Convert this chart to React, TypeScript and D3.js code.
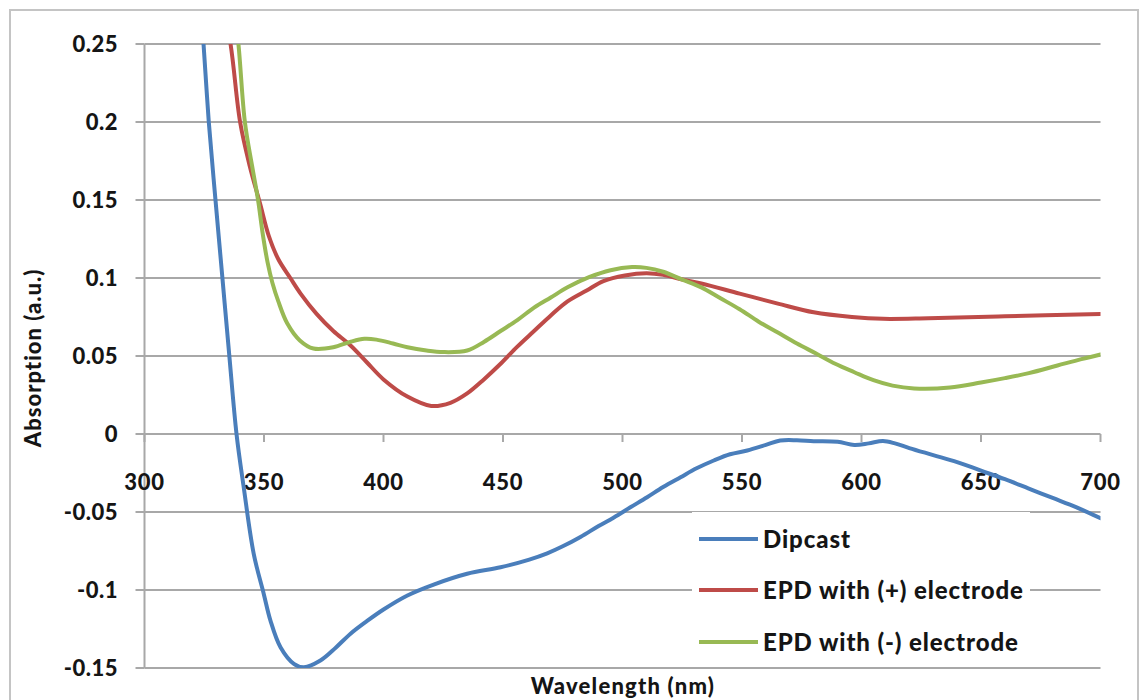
import React from "react";
import * as d3 from "d3";

// Absorption spectra, wavelength (nm) / absorbance (a.u.)
const dipcastNm = [323, 324.7, 326.9, 329.7, 332.6, 335.5, 338.5, 341.5, 345.7, 349.9, 352.7, 356.9, 362.5, 366.7, 373.6, 380, 386.2, 393, 400, 410, 421, 435, 449, 461, 468.5, 475, 482.4, 490, 496.4, 503.3, 510.3, 517, 524.3, 531, 538.2, 545, 552.2, 560, 566, 573, 580, 590, 597, 603, 609, 614, 620, 630, 640, 650, 660, 670, 680, 690, 700];
const dipcastAbs = [0.28, 0.25, 0.2, 0.15, 0.1, 0.05, 0.0, -0.034, -0.0768, -0.1025, -0.1196, -0.1367, -0.1473, -0.1495, -0.1452, -0.137, -0.128, -0.12, -0.1125, -0.1035, -0.0965, -0.0896, -0.0854, -0.0805, -0.0765, -0.072, -0.066, -0.059, -0.0535, -0.047, -0.0405, -0.034, -0.0277, -0.022, -0.017, -0.013, -0.0106, -0.007, -0.0042, -0.004, -0.0046, -0.005, -0.007, -0.006, -0.0045, -0.006, -0.009, -0.0135, -0.018, -0.0235, -0.029, -0.035, -0.041, -0.047, -0.054];

const posNm = [330, 336, 340, 344, 348.3, 352, 356, 361, 365.3, 372, 379, 386, 393, 400, 410, 420, 428, 435, 442, 449, 456, 463, 470, 477, 485, 492, 501, 510, 517, 525, 533, 549, 565, 580, 596, 609, 628, 660, 700];
const posAbs = [0.3, 0.25, 0.2, 0.172, 0.148, 0.127, 0.112, 0.1, 0.09, 0.077, 0.066, 0.057, 0.046, 0.035, 0.024, 0.018, 0.02, 0.026, 0.035, 0.045, 0.056, 0.066, 0.076, 0.085, 0.092, 0.098, 0.1016, 0.103, 0.102, 0.099, 0.0965, 0.09, 0.0836, 0.078, 0.075, 0.0738, 0.0742, 0.0755, 0.077];

const negNm = [337, 339.3, 342, 345, 347.5, 349.5, 351.5, 353.5, 356, 359.7, 365, 370.7, 379, 386, 392, 397, 404, 410, 418, 425, 435, 442, 449, 456, 463, 470, 477, 486, 495, 504, 510, 517, 525, 533, 541, 549, 557, 565, 573, 581, 589, 597, 605, 613, 622, 637, 650, 660, 670, 682, 692, 700];
const negAbs = [0.28, 0.25, 0.2, 0.172, 0.15, 0.128, 0.11, 0.097, 0.085, 0.071, 0.06, 0.0548, 0.0556, 0.059, 0.061, 0.0605, 0.058, 0.0556, 0.0535, 0.0525, 0.0535, 0.059, 0.066, 0.073, 0.081, 0.0875, 0.094, 0.1005, 0.105, 0.107, 0.1065, 0.104, 0.099, 0.094, 0.087, 0.08, 0.072, 0.065, 0.058, 0.0516, 0.045, 0.0396, 0.0345, 0.031, 0.0292, 0.0298, 0.033, 0.0358, 0.039, 0.0439, 0.048, 0.051];

const seriesNames = ["Dipcast", "EPD with (+) electrode", "EPD with (-) electrode"];
const seriesColors = ["#4a7ebb", "#be4b48", "#98b954"];

const xTicks = [300, 350, 400, 450, 500, 550, 600, 650, 700];
const yTicks = [0.25, 0.2, 0.15, 0.1, 0.05, 0, -0.05, -0.1, -0.15];
const yTickLabels = ["0.25", "0.2", "0.15", "0.1", "0.05", "0", "-0.05", "-0.1", "-0.15"];

const xTitle = "Wavelength (nm)";
const yTitle = "Absorption (a.u.)";

const W = 1143;
const H = 700;
const plot = { left: 144.5, right: 1100.5, top: 44, bottom: 668 };
const FONT = "Lato, 'Open Sans', sans-serif";
const GRID = "#a8a8a8";
const INK = "#151515";

export default function App() {
  const x = d3.scaleLinear().domain([300, 700]).range([plot.left, plot.right]);
  const y = d3.scaleLinear().domain([-0.15, 0.25]).range([plot.bottom, plot.top]);

  const series = [
    { nm: dipcastNm, abs: dipcastAbs },
    { nm: posNm, abs: posAbs },
    { nm: negNm, abs: negAbs },
  ];

  const line = d3
    .line<[number, number]>()
    .x((d) => x(d[0]))
    .y((d) => y(d[1]))
    .curve(d3.curveCatmullRom.alpha(0.5));

  const legend = { x: 692, y: 512, w: 338, h: 152, rowY: [539, 590, 642] };

  return (
    <svg
      width={W}
      height={H}
      style={{ position: "absolute", left: 0, top: 0, background: "#fff" }}
      fontFamily={FONT}
    >
      <defs>
        <clipPath id="plot-clip">
          <rect x={plot.left} y={plot.top} width={plot.right - plot.left} height={plot.bottom - plot.top} />
        </clipPath>
      </defs>

      {/* outer chart border */}
      <rect x={10} y={10} width={1128} height={700} fill="#fff" stroke="#c4c4c4" strokeWidth={2} />

      {/* horizontal gridlines */}
      {yTicks.map((t) => (
        <line key={"g" + t} x1={plot.left} x2={plot.right} y1={y(t)} y2={y(t)} stroke={GRID} strokeWidth={2} />
      ))}

      {/* vertical axis */}
      <line x1={plot.left} x2={plot.left} y1={plot.top} y2={plot.bottom} stroke={GRID} strokeWidth={2} />
      {yTicks.map((t) => (
        <line key={"yt" + t} x1={plot.left - 9} x2={plot.left} y1={y(t)} y2={y(t)} stroke={GRID} strokeWidth={2} />
      ))}
      {yTicks.map((t, i) => (
        <text
          key={"yl" + t}
          x={118}
          y={y(t)}
          dy="0.36em"
          textAnchor="end"
          fontSize={22}
          fontWeight={900}
          letterSpacing={0.5}
          fill={INK}
        >
          {yTickLabels[i]}
        </text>
      ))}

      {/* horizontal axis at zero */}
      {xTicks.map((t) => (
        <line key={"xt" + t} x1={x(t)} x2={x(t)} y1={y(0)} y2={y(0) + 8} stroke={GRID} strokeWidth={2} />
      ))}
      {xTicks.map((t) => (
        <text
          key={"xl" + t}
          x={x(t)}
          y={490}
          textAnchor="middle"
          fontSize={22}
          fontWeight={900}
          letterSpacing={0.8}
          fill={INK}
        >
          {t}
        </text>
      ))}

      {/* spectra */}
      <g clipPath="url(#plot-clip)">
        {series.map((s, i) => (
          <path
            key={seriesNames[i]}
            d={line(s.nm.map((v, k) => [v, s.abs[k]] as [number, number])) || ""}
            fill="none"
            stroke={seriesColors[i]}
            strokeWidth={4}
            strokeLinejoin="round"
            strokeLinecap="round"
          />
        ))}
      </g>

      {/* legend */}
      <rect x={legend.x} y={legend.y} width={legend.w} height={legend.h} fill="#fff" />
      {seriesNames.map((name, i) => (
        <g key={"lg" + name}>
          <line
            x1={699}
            x2={758}
            y1={legend.rowY[i]}
            y2={legend.rowY[i]}
            stroke={seriesColors[i]}
            strokeWidth={4}
          />
          <text
            x={763}
            y={legend.rowY[i]}
            dy="0.36em"
            fontSize={24}
            fontWeight={900}
            letterSpacing={0.9}
            fill={INK}
          >
            {name}
          </text>
        </g>
      ))}

      {/* axis titles */}
      <text x={623} y={694} textAnchor="middle" fontSize={22} fontWeight={900} letterSpacing={1.2} fill={INK}>
        {xTitle}
      </text>
      <text
        transform={`translate(41, 358) rotate(-90)`}
        textAnchor="middle"
        fontSize={22}
        fontWeight={900}
        letterSpacing={1}
        fill={INK}
      >
        {yTitle}
      </text>
    </svg>
  );
}
